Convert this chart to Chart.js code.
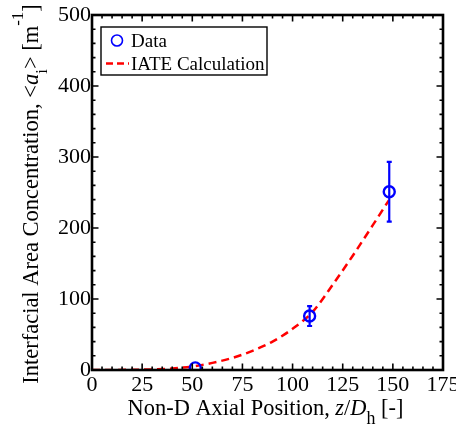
<!DOCTYPE html>
<html>
<head>
<meta charset="utf-8">
<script src="https://cdn.jsdelivr.net/npm/chart.js@4/dist/chart.umd.min.js"></script>
<style>
  html, body { margin: 0; padding: 0; background: #fff; }
  canvas { display: block; }
</style>
</head>
<body>
<canvas id="c" width="456" height="426"></canvas>
<script>
// IATE calculation curve along the channel
const curveX = [0, 10, 20, 30, 40, 50, 60, 70, 80, 90, 100, 110, 120, 130, 140, 148];
const curveY = [0, 0.1, 0.3, 0.8, 2, 5, 10, 17, 27, 40, 58, 82, 120, 161, 204, 239];

// Measured interfacial area concentration with uncertainty
const dataX = [51.5, 108.5, 148.2];
const dataY = [3, 76, 251];
const dataErr = [0, 14, 42];

// Axis ticks
const xTicks = [0, 25, 50, 75, 100, 125, 150, 175];
const yTicks = [0, 100, 200, 300, 400, 500];
const xMinorStep = 5;
const yMinorStep = 20;

const SERIF = '"Liberation Serif", "Times New Roman", serif';

function drawRich(ctx, segs, x, y, size) {
  // segs: [{t, it, dy, sc}] drawn left-to-right, centred on x
  let total = 0;
  const widths = segs.map(s => {
    ctx.font = (s.it ? 'italic ' : '') + (size * (s.sc || 1)).toFixed(1) + 'px ' + SERIF;
    const w = ctx.measureText(s.t).width;
    total += w;
    return w;
  });
  let cx = x - total / 2;
  segs.forEach((s, i) => {
    ctx.font = (s.it ? 'italic ' : '') + (size * (s.sc || 1)).toFixed(1) + 'px ' + SERIF;
    ctx.fillText(s.t, cx, y + (s.dy || 0));
    cx += widths[i];
  });
}

const framePlugin = {
  id: 'frame',
  afterDatasetsDraw(chart) {
    const { ctx, chartArea: a, scales: { x, y } } = chart;
    ctx.save();

    // error bars
    ctx.strokeStyle = '#0000ff';
    ctx.lineWidth = 2.2;
    dataX.forEach((v, i) => {
      if (!dataErr[i]) return;
      const px = x.getPixelForValue(v);
      const top = y.getPixelForValue(dataY[i] + dataErr[i]);
      const bot = y.getPixelForValue(dataY[i] - dataErr[i]);
      ctx.beginPath();
      ctx.moveTo(px, top); ctx.lineTo(px, bot);
      ctx.moveTo(px - 2.5, top); ctx.lineTo(px + 2.5, top);
      ctx.moveTo(px - 2.5, bot); ctx.lineTo(px + 2.5, bot);
      ctx.stroke();
    });

    // tick marks on all four sides, pointing inward
    ctx.strokeStyle = '#000';
    ctx.lineWidth = 1.6;
    ctx.beginPath();
    for (let v = x.min + xMinorStep; v < x.max; v += xMinorStep) {
      const len = xTicks.includes(v) ? 6.5 : 3.5;
      const px = x.getPixelForValue(v);
      ctx.moveTo(px, a.bottom); ctx.lineTo(px, a.bottom - len);
      ctx.moveTo(px, a.top); ctx.lineTo(px, a.top + len);
    }
    for (let v = y.min + yMinorStep; v < y.max; v += yMinorStep) {
      const len = yTicks.includes(v) ? 6.5 : 3.5;
      const py = y.getPixelForValue(v);
      ctx.moveTo(a.left, py); ctx.lineTo(a.left + len, py);
      ctx.moveTo(a.right, py); ctx.lineTo(a.right - len, py);
    }
    ctx.stroke();

    // plot frame
    ctx.lineWidth = 2.6;
    ctx.strokeRect(a.left, a.top, a.right - a.left, a.bottom - a.top);

    // legend
    const lx = 101, ly = 27, lw = 166, lh = 48;
    ctx.fillStyle = '#fff';
    ctx.fillRect(lx, ly, lw, lh);
    ctx.lineWidth = 1.4;
    ctx.strokeRect(lx, ly, lw, lh);
    ctx.strokeStyle = '#0000ff';
    ctx.lineWidth = 1.6;
    ctx.beginPath();
    ctx.arc(117, 40.5, 5.5, 0, Math.PI * 2);
    ctx.stroke();
    ctx.strokeStyle = '#ff0000';
    ctx.lineWidth = 2.5;
    ctx.setLineDash([7, 4]);
    ctx.beginPath();
    ctx.moveTo(106, 63.5); ctx.lineTo(129, 63.5);
    ctx.stroke();
    ctx.setLineDash([]);
    ctx.fillStyle = '#000';
    ctx.font = '19px ' + SERIF;
    ctx.textAlign = 'left';
    ctx.textBaseline = 'alphabetic';
    ctx.fillText('Data', 131, 47);
    ctx.fillText('IATE Calculation', 131, 70);

    // axis titles
    drawRich(ctx, [
      { t: 'Non-D Axial Position, ' },
      { t: 'z', it: true },
      { t: '/' },
      { t: 'D', it: true },
      { t: 'h', sc: 0.8, dy: 9 },
      { t: ' [-]' }
    ], 265.5, 415, 22.4);

    ctx.save();
    ctx.translate(38, 194);
    ctx.rotate(-Math.PI / 2);
    drawRich(ctx, [
      { t: 'Interfacial Area Concentration, <' },
      { t: 'a', it: true },
      { t: 'i', sc: 0.75, dy: 9 },
      { t: '> [m' },
      { t: '-1', sc: 0.75, dy: -15 },
      { t: ']' }
    ], 0, 0, 22.5);
    ctx.restore();

    ctx.restore();
  }
};

new Chart(document.getElementById('c'), {
  data: {
    datasets: [
      {
        type: 'scatter',
        label: 'Data',
        data: dataX.map((v, i) => ({ x: v, y: dataY[i] })),
        borderColor: '#0000ff',
        backgroundColor: 'rgba(0,0,0,0)',
        borderWidth: 2.4,
        pointRadius: 5.5,
        pointHoverRadius: 5.5,
        order: 1
      },
      {
        type: 'line',
        label: 'IATE Calculation',
        data: curveX.map((v, i) => ({ x: v, y: curveY[i] })),
        borderColor: '#ff0000',
        borderWidth: 2.5,
        borderDash: [8, 5],
        pointRadius: 0,
        fill: false,
        cubicInterpolationMode: 'monotone',
        order: 2
      }
    ]
  },
  options: {
    responsive: false,
    animation: false,
    layout: { padding: { left: 0, top: 15, right: 13, bottom: 0 } },
    plugins: { legend: { display: false }, tooltip: { enabled: false } },
    scales: {
      x: {
        type: 'linear',
        min: 0, max: 175,
        afterBuildTicks: s => { s.ticks = xTicks.map(v => ({ value: v })); },
        afterFit: s => { s.height = 56; s.paddingLeft = 0; s.paddingRight = 0; },
        grid: { display: false, drawTicks: false },
        border: { display: false },
        ticks: { color: '#000', padding: 2, maxRotation: 0, font: { family: SERIF, size: 22 } }
      },
      y: {
        type: 'linear',
        min: 0, max: 500,
        afterBuildTicks: s => { s.ticks = yTicks.map(v => ({ value: v })); },
        afterFit: s => { s.width = 92; s.paddingTop = 0; s.paddingBottom = 0; },
        grid: { display: false, drawTicks: false },
        border: { display: false },
        ticks: { color: '#000', padding: 1, font: { family: SERIF, size: 22 } }
      }
    }
  },
  plugins: [framePlugin]
});
</script>
</body>
</html>
